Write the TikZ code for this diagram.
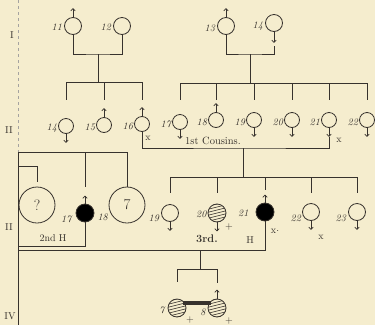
\documentclass[tikz,border=0pt]{standalone}
\usetikzlibrary{arrows.meta}
\definecolor{bg}{RGB}{245,237,206}
\definecolor{ink}{RGB}{55,50,45}
\begin{document}
\begin{tikzpicture}[x=1pt,y=-1pt,
  ind/.style={circle,draw=ink,line width=0.8pt,inner sep=0pt,minimum size=15pt},
  gone/.style={ind,minimum size=17pt},
  big/.style={ind,minimum size=36pt,font=\fontsize{15}{15}\selectfont,text=ink},
  aff/.style={ind,fill=black,minimum size=18pt},
  hat/.style={ind,minimum size=18pt,path picture={
     \foreach \k in {-9,-6,...,9}{\draw[ink,line width=0.6pt]
       ([xshift=-12pt,yshift=\k pt-3pt]path picture bounding box.center) --
       ([xshift=12pt,yshift=\k pt+3pt]path picture bounding box.center);}}},
  lbl/.style={font=\fontsize{10}{10}\selectfont\itshape,text=ink,inner sep=0pt},
  txt/.style={font=\fontsize{10}{10}\selectfont,text=ink,inner sep=0pt},
  ln/.style={draw=ink,line width=0.7pt},
  sgn/.style={ln,-{Straight Barb[length=2.2pt,width=4.5pt]}}]
\fill[bg] (0,0) rectangle (375,325);
\useasboundingbox (0,0) rectangle (375,325);

% generation numerals
\node[txt] (g1) at (12,35) {I};
\node[txt] (g2) at (9,130) {II};
\node[txt] (g3) at (9,227) {II};
\node[txt] (g4) at (10,316) {IV};
\draw[ink!45,dashed,line width=0.5pt] (18,0) -- (18,152);
\draw[ln] (18,152) -- (18,325);

% generation I
\node[gone] (a11) at (73,26) {};
\node[gone] (a12) at (122,26) {};
\node[gone] (a13) at (226,26) {};
\node[gone] (a14) at (274,23) {};
\node[lbl,anchor=east] at ([xshift=-2pt,yshift=-1pt]a11.west) {11};
\node[lbl,anchor=east] at ([xshift=-2pt,yshift=-1pt]a12.west) {12};
\node[lbl,anchor=east] at ([xshift=-2pt,yshift=-2pt]a13.west) {13};
\node[lbl,anchor=east] at ([xshift=-2pt,yshift=-3pt]a14.west) {14};
\draw[sgn] (a11.north) -- ++(0,-9);
\draw[sgn] (a13.north) -- ++(0,-9);
\draw[sgn] (a14.south) -- ++(0,11) coordinate (a14t);
\coordinate (m1) at (98,54);
\coordinate (m2) at (250,54);
\draw[ln] (a11.south) |- (m1) -| (a12.south);
\draw[ln] (a13.south) |- (m2) -| ([yshift=-3pt]a14t);
\coordinate (s1) at (98,82);
\coordinate (s2) at (250,83);
\coordinate (e1) at (0,100);
\draw[ln] (m1) -- (s1);
\draw[ln] (m2) -- (s2);

% generation II
\node[ind] (b14) at (66,126) {};
\node[ind] (b15) at (104,125) {};
\node[ind] (b16) at (142,124) {};
\node[ind] (b17) at (180,122) {};
\node[ind] (b18) at (216,120) {};
\node[ind] (b19) at (254,120) {};
\node[ind] (b20) at (292,120) {};
\node[ind] (b21) at (329,120) {};
\node[ind] (b22) at (367,120) {};
\foreach \n/\t in {b14/14,b15/15,b16/16,b17/17,b18/18,b19/19,b20/20,b21/21,b22/22}
  \node[lbl,anchor=east] at ([xshift=-1pt,yshift=-2pt]\n.west) {\t};
\foreach \n in {b14,b17,b19,b20,b22} \draw[sgn] (\n.south) -- ++(0,9);
\foreach \n in {b15,b16,b18} \draw[sgn] (\n.north) -- ++(0,-9);
\draw[sgn] (b21.south) -- ++(0,9) coordinate (b21t);
\draw[ln] (b14 |- s1) -- (b16 |- s1);
\draw[ln] (b17 |- s2) -- (b22 |- s2);
\foreach \n in {b14,b15,b16} \draw[ln] (\n |- s1) -- (\n |- e1);
\foreach \n in {b17,b18,b19,b20,b21,b22} \draw[ln] (\n |- s2) -- (\n |- e1);
\node[txt] (x16) at (148,138) {x};
\node[txt] (x21) at (339,140) {x};
\node[txt,font=\fontsize{10.5}{11}\selectfont] (cous) at (213,141) {1st Cousins.};
\coordinate (c1) at (243,148);
\draw[ln] (b16.south) |- (c1) -| (b21t);
\coordinate (s3) at (243,177);
\coordinate (e3) at (0,193);
\draw[ln] (c1) -- (s3);

% generation III (right)
\node[ind,minimum size=17pt] (c19) at (170,213) {};
\node[hat] (c20) at (217,213) {};
\node[aff] (c21) at (265,212) {};
\node[ind,minimum size=17pt] (c22) at (311,212) {};
\node[ind,minimum size=17pt] (c23) at (357,212) {};
\node[lbl,anchor=east] at ([xshift=-2pt,yshift=-5pt]c19.west) {19};
\node[lbl,anchor=east] at ([xshift=-1pt,yshift=-1pt]c20.west) {20};
\node[lbl,anchor=east] at ([xshift=-7pt,yshift=-1pt]c21.west) {21};
\node[lbl,anchor=east] at ([xshift=-1pt,yshift=-6pt]c22.west) {22};
\node[lbl,anchor=east] at ([xshift=-2pt,yshift=-6pt]c23.west) {23};
\foreach \n in {c19,c20,c22,c23} \draw[sgn] (\n.south) -- ++(0,9);
\draw[sgn] (c21.north) -- ++(0,-8);
\draw[ln] (c19 |- s3) -- (c23 |- s3);
\foreach \n in {c19,c20,c22,c23} \draw[ln] (\n |- s3) -- (\n |- e3);
\draw[ln] (c21 |- s3) -- ([yshift=3pt]c21 |- e3);
\node[txt] (p20) at (229,227) {+};
\node[txt] (x22) at (321,237) {x};
\node[txt] (x21b) at (275,231) {x$\cdot$};
\node[txt] (h3) at (250,240) {H};
\node[txt,font=\bfseries\fontsize{11}{11}\selectfont] (third) at (207,239) {3rd.};

% generation III (left)
\node[big] (q) at (37,205) {?};
\node[aff] (p18) at (85,213) {};
\node[big] (seven) at (127,205) {7};
\node[lbl,anchor=east] at ([xshift=-4pt,yshift=-6pt]p18.west) {17};
\node[lbl,anchor=west] at ([xshift=3pt,yshift=-4pt]p18.east) {18};
\draw[sgn] (p18.north) -- ++(0,-8);
\coordinate (l1) at (18,152);
\coordinate (l2) at (18,166);
\draw[ln] (l1) -| (seven.north);
\draw[ln] (p18 |- l1) -- ([yshift=8pt]p18 |- 0,195);
\draw[ln] (l2) -| ([yshift=5pt]q.north);
\node[txt] (h2) at (53,238) {2nd H};
\draw[ln] (p18.south) |- (18,246);
\coordinate (l3) at (18,250);
\draw[ln] (c21.south) |- (l3);

% generation IV
\coordinate (t4) at (200,250);
\coordinate (s4) at (200,269);
\draw[ln] (t4) -- (s4);
\node[hat] (d7) at (177,308) {};
\node[hat] (d8) at (217,308) {};
\draw[ln] (d7 |- s4) -- (d8 |- s4);
\draw[ln] (d7 |- s4) -- (d7 |- 0,282);
\draw[ln] (d8 |- s4) -- (d8 |- 0,283);
\draw[sgn] (d8.north) -- ++(0,-9);
\draw[ink,line width=3.5pt] ([xshift=6pt,yshift=5pt]d7.center) -- ([xshift=-6pt,yshift=5pt]d8.center);
\node[lbl] (n7) at (162,310) {7};
\node[lbl] (n8) at (203,312) {8};
\node[txt] (p7) at (190,320) {+};
\node[txt] (p8) at (229,321) {+};
\end{tikzpicture}
\end{document}
